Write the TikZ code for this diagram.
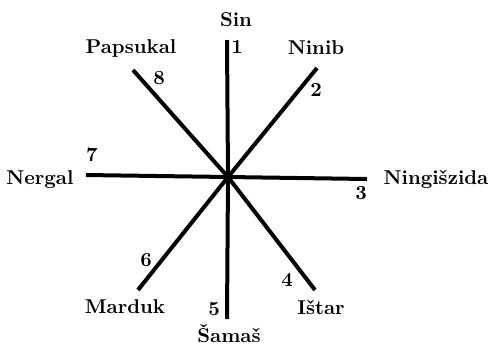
\documentclass[tikz,border=0pt]{standalone}
\usetikzlibrary{positioning}
\tikzset{
 spoke/.style={line width=2pt,draw=black},
 god/.style={font=\bfseries,inner sep=1pt},
 num/.style={font=\bfseries,inner sep=1pt}
}
\begin{document}
\begin{tikzpicture}[x=0.5pt,y=-0.5pt]
\useasboundingbox (0,0) rectangle (488,345);
\coordinate (c) at (228,177);
\coordinate (e1) at (227,40);
\coordinate (e2) at (317,68);
\coordinate (e3) at (367,179);
\coordinate (e4) at (315,290);
\coordinate (e5) at (227,319);
\coordinate (e6) at (138,290);
\coordinate (e7) at (86,175);
\coordinate (e8) at (133,70);
\draw[spoke] (c) -- (e1);
\draw[spoke] (c) -- (e2);
\draw[spoke] (c) -- (e3);
\draw[spoke] (c) -- (e4);
\draw[spoke] (c) -- (e5);
\draw[spoke] (c) -- (e6);
\draw[spoke] (c) -- (e7);
\draw[spoke] (c) -- (e8);
% names
\node[god] (sin) at (236,20) {Sin};
\node[god] (ninib) at (316,48) {Ninib};
\node[god] (ningiszida) at (436,179) {Ningišzida};
\node[god] (istar) at (321,307) {Ištar};
\node[god] (samas) at (229,334) {Šamaš};
\node[god] (marduk) at (125,307) {Marduk};
\node[god] (nergal) at (40,180) {Nergal};
\node[god] (papsukal) at (131,48) {Papsukal};
% numbers
\node[num] (n1) at (237,47) {1};
\node[num] (n2) at (316,90) {2};
\node[num] (n3) at (361,193) {3};
\node[num] (n4) at (287,280) {4};
\node[num] (n5) at (214,309) {5};
\node[num] (n6) at (146,260) {6};
\node[num] (n7) at (92,155) {7};
\node[num] (n8) at (159,78) {8};
\end{tikzpicture}
\end{document}
